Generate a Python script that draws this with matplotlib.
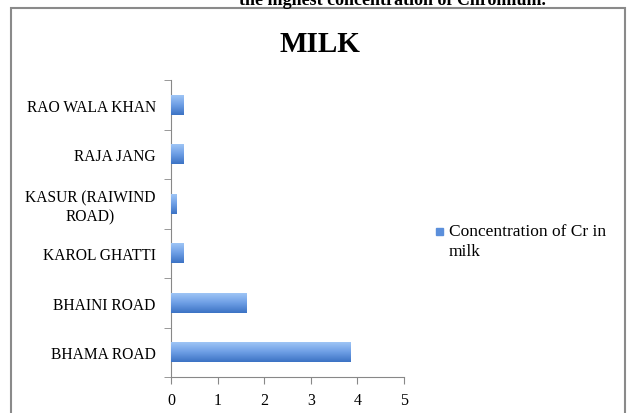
import matplotlib.pyplot as plt
import matplotlib.colors as mcolors
import numpy as np
from matplotlib.patches import Rectangle

plt.rcParams['font.family'] = ['Liberation Serif', 'DejaVu Serif']

# data
sites = ['BHAMA ROAD', 'BHAINI ROAD', 'KAROL GHATTI', 'KASUR (RAIWIND\nROAD)',
         'RAJA JANG', 'RAO WALA KHAN']
cr_milk = [3.85, 1.63, 0.26, 0.12, 0.26, 0.26]
series_name = 'Concentration of Cr in\nmilk'

fig = plt.figure(figsize=(6.3, 4.14), dpi=100)
ax = fig.add_axes([171/630, 1-378/414, 233/630, 297/414])

y = np.arange(len(sites))
bars = ax.barh(y, cr_milk, height=0.41, color='#5B8FDB', zorder=2)

# vertical gradient on each bar, light on top, dark underneath
grad = mcolors.LinearSegmentedColormap.from_list('g', ['#3C73C4', '#6FA0E6', '#A3C8F7'])
for b in bars:
    x0, y0, w, h = b.get_x(), b.get_y(), b.get_width(), b.get_height()
    im = ax.imshow(np.linspace(0, 1, 50).reshape(-1, 1), cmap=grad, aspect='auto',
                   extent=(x0, x0 + w, y0, y0 + h), origin='lower', zorder=3)
    im.set_clip_path(b)

ax.set_xlim(0, 5)
ax.set_ylim(-0.5, len(sites) - 0.5)
ax.set_xticks(range(6))
ax.set_yticks(np.arange(len(sites) + 1) - 0.5, minor=True)
ax.set_yticks(y)
ax.set_yticklabels(sites, multialignment='center')
ax.tick_params(axis='y', which='major', length=0, labelsize=11.2, pad=11)
ax.tick_params(axis='y', which='minor', length=5, color='#888888', direction='out')
ax.tick_params(axis='x', length=5, color='#888888', labelsize=11.5, pad=6)
for s in ['top', 'right']:
    ax.spines[s].set_visible(False)
for s in ['left', 'bottom']:
    ax.spines[s].set_color('#888888')
    ax.spines[s].set_linewidth(0.8)

fig.text(320/630, 1-45/414, 'MILK', fontsize=21, fontweight='bold', ha='center', va='center')
# caption of the page above the chart, mostly cut off by the crop
fig.text(392/630, 1-5/414, 'the highest concentration of Chromium.', fontsize=13,
         fontweight='bold', ha='center', va='baseline')

# legend
fig.patches.append(Rectangle((436/630, 1-236/414), 7/630, 7/414, transform=fig.transFigure,
                             color='#5B8FDB'))
fig.text(449/630, 1-242/414, series_name, fontsize=12.5, ha='left', va='center',
         linespacing=1.35)

# outer chart frame
fig.patches.append(Rectangle((11/630, -0.05), 614/630, 1.05 - 9/414, transform=fig.transFigure,
                             fill=False, edgecolor='#8a8a8a', linewidth=1.5))

fig.savefig('out.png', dpi=100)
